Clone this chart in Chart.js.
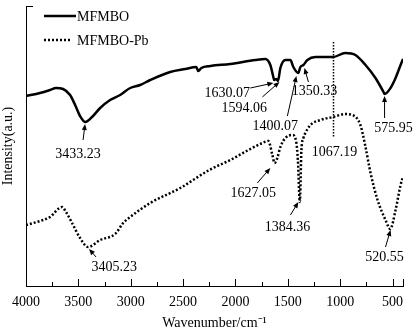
<!DOCTYPE html>
<html>
<head>
<meta charset="utf-8">
<script src="https://cdn.jsdelivr.net/npm/chart.js@4.4.1/dist/chart.umd.min.js"></script>
<style>
  html, body { margin: 0; padding: 0; background: #fff; }
</style>
</head>
<body>
<canvas id="ftir" width="416" height="334"></canvas>
<script>
// ── FTIR spectra: MFMBO before / after Pb adsorption ─────────────────────────
const FONT = '"Liberation Serif", "Times New Roman", serif';

// wavenumber (cm-1) / intensity (a.u.)
const mfmboWn = [4000, 3866, 3770, 3713, 3646, 3579, 3531, 3484, 3433, 3369, 3292, 3197, 3101, 3005,
                 2910, 2814, 2623, 2479, 2374, 2355, 2326, 2240, 2049, 1810, 1714, 1667, 1638, 1630,
                 1609, 1594, 1571, 1523, 1475, 1447, 1400, 1380, 1351, 1313, 1236, 1141, 1067, 951,
                 854, 758, 663, 586, 576, 519, 471, 423, 400];
const mfmboI  = [190, 193, 196, 198, 197, 191, 181, 170, 164, 169, 178, 186, 191, 198,
                 201, 206, 214, 217, 219, 215, 218, 220, 222, 226, 227, 221, 209, 206,
                 207, 205, 218, 226, 226, 219, 213, 219, 221, 226, 229, 229, 229, 233,
                 231, 221, 208, 194, 192, 198, 208, 221, 227];

const pbWn = [4000, 3866, 3770, 3656, 3618, 3560, 3484, 3407, 3292, 3149, 3072, 3005, 2814, 2527,
              2250, 2049, 1858, 1743, 1686, 1647, 1627, 1600, 1571, 1523, 1456, 1418, 1404, 1385,
              1370, 1351, 1332, 1284, 1189, 1067, 951, 883, 807, 758, 710, 643, 567, 521,
              471, 423, 404];
const pbI  = [61, 65, 69, 79, 74, 63, 48, 39, 46, 52, 63, 69, 83, 98,
              116, 126, 137, 143, 145, 131, 123, 128, 139, 148, 151, 143, 126, 84,
              136, 148, 153, 161, 166, 169, 172, 171, 161, 139, 113, 86, 66, 57,
              76, 101, 108];

const xTicks = [4000, 3500, 3000, 2500, 2000, 1500, 1000, 500];
const xMinor = [3750, 3250, 2750, 2250, 1750, 1250, 750];

// peak labels: text, label centre, arrow tail -> arrow tip (data units)
const peaks = [
  { text: '3433.23', lx: 3503, ly: 132, ax: 3455, ay: 146, tx: 3436, ty: 162 },
  { text: '1630.07', lx: 2078, ly: 193, ax: 1858, ay: 198, tx: 1638, ty: 203 },
  { text: '1594.06', lx: 1915, ly: 178, ax: 1743, ay: 189, tx: 1580, ty: 204 },
  { text: '1400.07', lx: 1619, ly: 160, ax: 1504, ay: 170, tx: 1418, ty: 210 },
  { text: '1350.33', lx: 1246, ly: 195, ax: 1303, ay: 204, tx: 1341, ty: 218 },
  { text: '575.95',  lx: 490,  ly: 158, ax: 576,  ay: 168, tx: 576,  ty: 190 },
  { text: '3405.23', lx: 3158, ly: 19,  ax: 3331, ay: 29,  tx: 3398, ty: 37 },
  { text: '1627.05', lx: 1829, ly: 93,  ax: 1791, ay: 103, tx: 1667, ty: 118 },
  { text: '1384.36', lx: 1504, ly: 59,  ax: 1475, ay: 71,  tx: 1399, ty: 84 },
  { text: '520.55',  lx: 576,  ly: 29,  ax: 567,  ay: 39,  tx: 519,  ty: 56 },
];
// 1067.19 is marked with a dotted vertical guide instead of an arrow
const guide = { text: '1067.19', wn: 1067.19, top: 244, bottom: 148, lx: 1055, ly: 134 };

function _pts(wn, vals) {
  return wn.map((w, i) => ({ x: w, y: vals[i] }));
}

function _arrow(ctx, x1, y1, x2, y2) {
  const ang = Math.atan2(y2 - y1, x2 - x1);
  const hl = 6, hw = 2.5;
  ctx.beginPath();
  ctx.moveTo(x1, y1);
  ctx.lineTo(x2 - Math.cos(ang) * hl * 0.8, y2 - Math.sin(ang) * hl * 0.8);
  ctx.stroke();
  ctx.beginPath();
  ctx.moveTo(x2, y2);
  ctx.lineTo(x2 - Math.cos(ang) * hl - Math.sin(ang) * hw, y2 - Math.sin(ang) * hl + Math.cos(ang) * hw);
  ctx.lineTo(x2 - Math.cos(ang) * hl + Math.sin(ang) * hw, y2 - Math.sin(ang) * hl - Math.cos(ang) * hw);
  ctx.closePath();
  ctx.fill();
}

const decor = {
  id: 'decor',
  afterDraw(chart) {
    const { ctx, chartArea: ca } = chart;
    const xs = chart.scales.x, ys = chart.scales.y;
    ctx.save();
    ctx.strokeStyle = '#000';
    ctx.fillStyle = '#000';
    ctx.lineWidth = 1;

    // inward tick marks on the x axis
    const tick = (v, len) => {
      const px = Math.round(xs.getPixelForValue(v)) + 0.5;
      ctx.beginPath(); ctx.moveTo(px, ca.bottom); ctx.lineTo(px, ca.bottom - len); ctx.stroke();
    };
    xTicks.forEach(v => tick(v, 7));
    xMinor.forEach(v => tick(v, 4));
    tick(400, 7);
    // small tick at top of the y axis
    const ty = Math.round(ys.getPixelForValue(280)) + 0.5;
    ctx.beginPath(); ctx.moveTo(ca.left, ty); ctx.lineTo(ca.left + 7, ty); ctx.stroke();

    // legend
    ctx.font = `14px ${FONT}`;
    ctx.textBaseline = 'middle';
    ctx.textAlign = 'left';
    chart.data.datasets.forEach((ds, i) => {
      const y = 16 + i * 24;
      ctx.save();
      ctx.lineWidth = ds.borderWidth;
      ctx.setLineDash(ds.borderDash || []);
      ctx.beginPath(); ctx.moveTo(44, y); ctx.lineTo(i ? 72 : 76, y); ctx.stroke();
      ctx.restore();
      ctx.fillText(ds.label, 77, y + 1);
    });

    // peak annotations
    ctx.textAlign = 'center';
    peaks.forEach(p => {
      ctx.fillText(p.text, xs.getPixelForValue(p.lx), ys.getPixelForValue(p.ly));
      _arrow(ctx, xs.getPixelForValue(p.ax), ys.getPixelForValue(p.ay),
                  xs.getPixelForValue(p.tx), ys.getPixelForValue(p.ty));
    });

    // dotted guide at 1067.19
    const gx = Math.round(xs.getPixelForValue(guide.wn)) + 0.5;
    ctx.save();
    ctx.lineWidth = 1.5;
    ctx.setLineDash([1.5, 1.5]);
    ctx.beginPath();
    ctx.moveTo(gx, ys.getPixelForValue(guide.top));
    ctx.lineTo(gx, ys.getPixelForValue(guide.bottom));
    ctx.stroke();
    ctx.restore();
    ctx.fillText(guide.text, xs.getPixelForValue(guide.lx), ys.getPixelForValue(guide.ly));
    ctx.restore();
  },
};

new Chart(document.getElementById('ftir'), {
  type: 'line',
  data: {
    datasets: [
      {
        label: 'MFMBO',
        data: _pts(mfmboWn, mfmboI),
        borderColor: '#000',
        borderWidth: 2.5,
        pointRadius: 0,
        cubicInterpolationMode: 'monotone',
      },
      {
        label: 'MFMBO-Pb',
        data: _pts(pbWn, pbI),
        borderColor: '#000',
        borderWidth: 2.5,
        borderDash: [2, 2],
        pointRadius: 0,
        cubicInterpolationMode: 'monotone',
      },
    ],
  },
  options: {
    responsive: false,
    animation: false,
    devicePixelRatio: 1,
    layout: { padding: { top: 6, right: 13, left: 0, bottom: 0 } },
    plugins: { legend: { display: false }, tooltip: { enabled: false } },
    scales: {
      x: {
        type: 'linear',
        reverse: true,
        min: 400,
        max: 4000,
        afterBuildTicks: s => { s.ticks = xTicks.map(v => ({ value: v })); },
        afterFit: s => { s.height = 48; },
        grid: { display: false, drawTicks: false },
        border: { display: true, color: '#000', width: 1 },
        ticks: {
          color: '#000',
          font: { family: FONT, size: 14 },
          padding: 8,
          maxRotation: 0,
          callback: v => String(v),
        },
        title: {
          display: true,
          text: 'Wavenumber/cm\u207B\u00B9',
          color: '#000',
          font: { family: FONT, size: 14 },
          padding: { top: 0, bottom: 2 },
        },
      },
      y: {
        min: 0,
        max: 280,
        afterFit: s => { s.width = 26; },
        grid: { display: false, drawTicks: false },
        border: { display: true, color: '#000', width: 1 },
        ticks: { display: false },
        title: {
          display: true,
          text: 'Intensity(a.u.)',
          color: '#000',
          font: { family: FONT, size: 14 },
          padding: { top: 0, bottom: 0 },
        },
      },
    },
  },
  plugins: [decor],
});
</script>
</body>
</html>
